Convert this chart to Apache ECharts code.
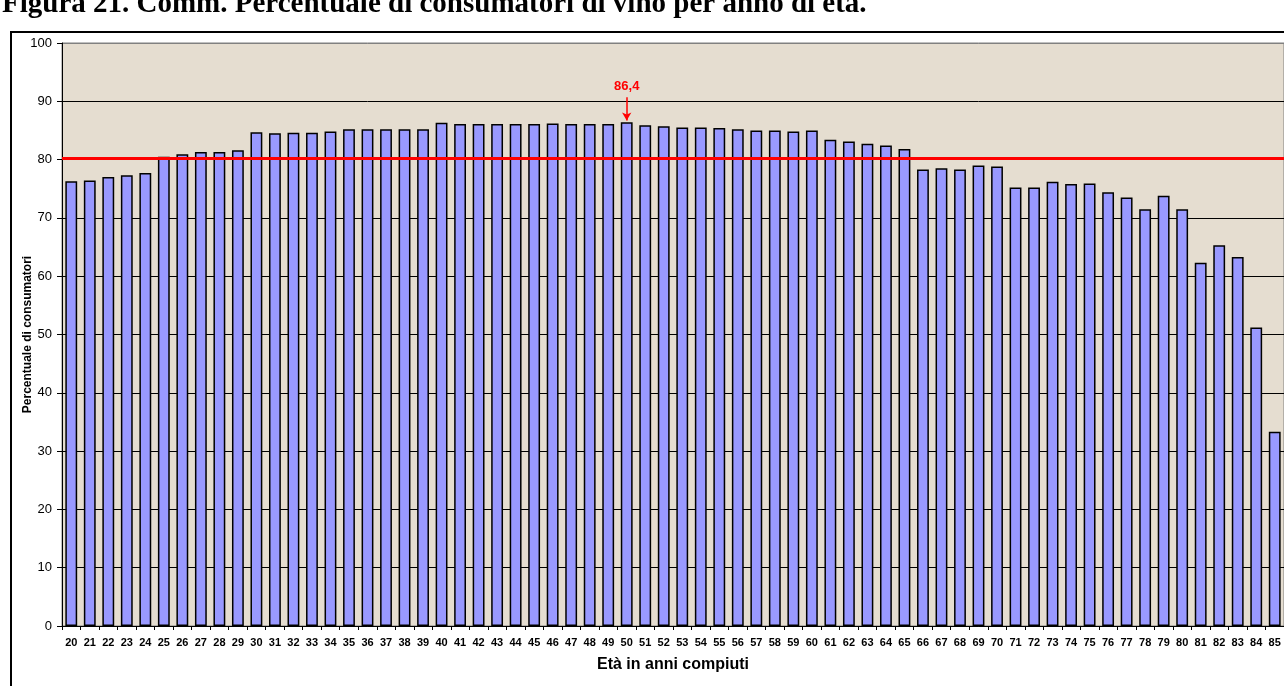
<!DOCTYPE html>
<html>
<head>
<meta charset="utf-8">
<title>Consumatori di vino per anno di età</title>
<script src="https://cdn.jsdelivr.net/npm/echarts@6/dist/echarts.min.js"></script>
<style>
  html, body { margin: 0; padding: 0; background: #fff; }
  #chart { width: 1284px; height: 686px; }
</style>
</head>
<body>
<div id="chart"></div>
<script>
// età in anni compiuti
const ages = ['20', '21', '22', '23', '24', '25', '26', '27', '28', '29',
  '30', '31', '32', '33', '34', '35', '36', '37', '38', '39',
  '40', '41', '42', '43', '44', '45', '46', '47', '48', '49',
  '50', '51', '52', '53', '54', '55', '56', '57', '58', '59',
  '60', '61', '62', '63', '64', '65', '66', '67', '68', '69',
  '70', '71', '72', '73', '74', '75', '76', '77', '78', '79',
  '80', '81', '82', '83', '84', '85']

// percentuale di consumatori
const consumers = [76.3, 76.4, 77.0, 77.3, 77.7, 80.5, 80.9, 81.3, 81.3, 81.6,
  84.7, 84.5, 84.6, 84.6, 84.8, 85.2, 85.2, 85.2, 85.2, 85.2,
  86.3, 86.1, 86.1, 86.1, 86.1, 86.1, 86.2, 86.1, 86.1, 86.1,
  86.4, 85.9, 85.7, 85.5, 85.5, 85.4, 85.2, 85.0, 85.0, 84.8,
  85.0, 83.4, 83.1, 82.7, 82.4, 81.8, 78.3, 78.5, 78.3, 79.0,
  78.8, 75.2, 75.2, 76.2, 75.8, 75.9, 74.4, 73.5, 71.5, 73.8,
  71.5, 62.3, 65.3, 63.3, 51.2, 33.3]

// media generale (linea rossa)
const average = [80.2]

// massimo evidenziato
const peakAge = ['50']
const peakLabel = ['86,4']
const arrowFrom = [90.7]
const arrowTo = [86.7]

const yTicks = { min: 0, max: 100, interval: 10 }

const chart = echarts.init(document.getElementById('chart'))

const baseFont = "Arial, 'Liberation Sans', sans-serif"

const option = {
  backgroundColor: '#fff',
  animation: false,
  textStyle: { fontFamily: baseFont },
  graphic: [
    {
      // titolo, tagliato in alto come nell'originale
      type: 'text',
      left: 2,
      top: -10,
      style: {
        text: 'Figura 21. Comm. Percentuale di consumatori di vino per anno di età.',
        font: "bold 29px 'Liberation Serif', 'Times New Roman', serif",
        fill: '#000'
      }
    },
    {
      // cornice esterna
      type: 'rect',
      shape: { x: 11, y: 32, width: 1300, height: 700 },
      style: { fill: 'none', stroke: '#000', lineWidth: 2 },
      silent: true
    }
  ],
  grid: {
    left: 62,
    top: 43,
    right: -2,
    bottom: 60,
    show: true,
    backgroundColor: '#e5ddd0',
    borderColor: '#808080',
    borderWidth: 1
  },
  xAxis: {
    type: 'category',
    data: ages,
    name: 'Età in anni compiuti',
    nameLocation: 'middle',
    nameGap: 31,
    nameMoveOverlap: false,
    nameTextStyle: { fontSize: 16, fontWeight: 'bold', color: '#000', fontFamily: baseFont },
    axisLine: { lineStyle: { color: '#000', width: 1 } },
    axisTick: { show: true, length: 4, lineStyle: { color: '#000' } },
    axisLabel: {
      interval: 0,
      margin: 11,
      fontSize: 11,
      fontWeight: 'bold',
      color: '#000',
      fontFamily: baseFont
    }
  },
  yAxis: {
    type: 'value',
    min: yTicks.min,
    max: yTicks.max,
    interval: yTicks.interval,
    name: 'Percentuale di consumatori',
    nameLocation: 'middle',
    nameRotate: 90,
    nameGap: 28,
    nameMoveOverlap: false,
    nameTextStyle: { fontSize: 12, fontWeight: 'bold', color: '#000', fontFamily: baseFont },
    axisLine: { show: true, lineStyle: { color: '#000', width: 1 } },
    axisTick: { show: true, length: 5, lineStyle: { color: '#000' } },
    axisLabel: { margin: 10, fontSize: 13, color: '#000', fontFamily: baseFont },
    splitLine: {
      show: true,
      lineStyle: {
        color: ['#000', '#000', '#000', '#000', '#000', '#000',
          '#000', '#000', '#000', '#000', '#808080'],
        width: 1
      }
    }
  },
  series: [{
    name: 'Consumatori',
    type: 'bar',
    data: consumers,
    barCategoryGap: '36%',
    itemStyle: {
      color: '#9999ff',
      borderColor: '#000',
      borderWidth: 1.5
    },
    markLine: {
      silent: true,
      animation: false,
      symbol: 'none',
      data: [
        {
          yAxis: average[0],
          lineStyle: { color: '#ff0000', width: 3, type: 'solid' },
          label: { show: false }
        },
        [
          {
            coord: [peakAge[0], arrowFrom[0]],
            symbol: 'none',
            lineStyle: { color: '#ff0000', width: 1.5, type: 'solid' },
            label: {
              show: true,
              position: 'start',
              distance: 4,
              formatter: peakLabel[0],
              color: '#ff0000',
              fontSize: 13,
              fontWeight: 'bold',
              fontFamily: baseFont
            }
          },
          {
            coord: [peakAge[0], arrowTo[0]],
            symbol: 'arrow',
            symbolSize: [7, 8]
          }
        ]
      ]
    }
  }]
}

chart.setOption(option)
</script>
</body>
</html>
